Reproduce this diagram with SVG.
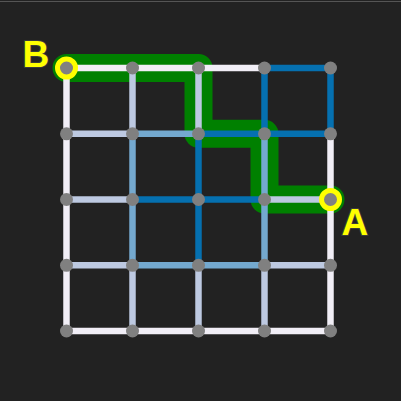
<svg xmlns="http://www.w3.org/2000/svg" width="401" height="401" viewBox="0 0 401 401">
<style>
.bg{fill:#222222}
.path{fill:none;stroke:#008000;stroke-width:28;stroke-linejoin:round;stroke-linecap:round}
.ol line{stroke:#7a7a7a;stroke-width:8.5}
.w{stroke:#f1eef6;stroke-width:6.5}
.l{stroke:#bdc9e1;stroke-width:6.5}
.m{stroke:#74a9cf;stroke-width:6.5}
.d{stroke:#0570b0;stroke-width:6.5}
.n{fill:#808080}
.end{fill:#808080;stroke:#ffff00;stroke-width:5}
.lab{font-family:"Liberation Sans",Arial,sans-serif;font-weight:bold;font-size:37px;fill:#ffff00;stroke:#3a3a3a;stroke-width:2;paint-order:stroke}
</style>
<defs>
<g id="edges">
<line x1="66.5" y1="68" x2="132.5" y2="68"/><line x1="132.5" y1="68" x2="198.5" y2="68"/><line x1="198.5" y1="68" x2="264.5" y2="68"/><line x1="264.5" y1="68" x2="330.5" y2="68"/>
<line x1="66.5" y1="133.8" x2="132.5" y2="133.8"/><line x1="132.5" y1="133.8" x2="198.5" y2="133.8"/><line x1="198.5" y1="133.8" x2="264.5" y2="133.8"/><line x1="264.5" y1="133.8" x2="330.5" y2="133.8"/>
<line x1="66.5" y1="199.5" x2="132.5" y2="199.5"/><line x1="132.5" y1="199.5" x2="198.5" y2="199.5"/><line x1="198.5" y1="199.5" x2="264.5" y2="199.5"/><line x1="264.5" y1="199.5" x2="330.5" y2="199.5"/>
<line x1="66.5" y1="265.3" x2="132.5" y2="265.3"/><line x1="132.5" y1="265.3" x2="198.5" y2="265.3"/><line x1="198.5" y1="265.3" x2="264.5" y2="265.3"/><line x1="264.5" y1="265.3" x2="330.5" y2="265.3"/>
<line x1="66.5" y1="331" x2="132.5" y2="331"/><line x1="132.5" y1="331" x2="198.5" y2="331"/><line x1="198.5" y1="331" x2="264.5" y2="331"/><line x1="264.5" y1="331" x2="330.5" y2="331"/>
<line x1="66.5" y1="68" x2="66.5" y2="331"/><line x1="132.5" y1="68" x2="132.5" y2="331"/><line x1="198.5" y1="68" x2="198.5" y2="331"/><line x1="264.5" y1="68" x2="264.5" y2="331"/><line x1="330.5" y1="68" x2="330.5" y2="331"/>
</g>
</defs>
<rect class="bg" x="0" y="0" width="401" height="401"/>
<line x1="0" y1="1.5" x2="401" y2="1.5" stroke="#555" stroke-width="1"/>
<path id="route" class="path" d="M66.5,68 H198.5 V133.8 H264.5 V199.5 H330.5"/>
<g id="connectors">
<g class="ol"><use href="#edges"/></g>
<g>
<line class="w" x1="66.5" y1="68" x2="132.5" y2="68"/><line class="w" x1="132.5" y1="68" x2="198.5" y2="68"/><line class="w" x1="198.5" y1="68" x2="264.5" y2="68"/><line class="d" x1="264.5" y1="68" x2="330.5" y2="68"/>
<line class="l" x1="66.5" y1="133.8" x2="132.5" y2="133.8"/><line class="m" x1="132.5" y1="133.8" x2="198.5" y2="133.8"/><line class="d" x1="198.5" y1="133.8" x2="264.5" y2="133.8"/><line class="d" x1="264.5" y1="133.8" x2="330.5" y2="133.8"/>
<line class="l" x1="66.5" y1="199.5" x2="132.5" y2="199.5"/><line class="d" x1="132.5" y1="199.5" x2="198.5" y2="199.5"/><line class="d" x1="198.5" y1="199.5" x2="264.5" y2="199.5"/><line class="l" x1="264.5" y1="199.5" x2="330.5" y2="199.5"/>
<line class="l" x1="66.5" y1="265.3" x2="132.5" y2="265.3"/><line class="m" x1="132.5" y1="265.3" x2="198.5" y2="265.3"/><line class="m" x1="198.5" y1="265.3" x2="264.5" y2="265.3"/><line class="l" x1="264.5" y1="265.3" x2="330.5" y2="265.3"/>
<line class="w" x1="66.5" y1="331" x2="132.5" y2="331"/><line class="w" x1="132.5" y1="331" x2="198.5" y2="331"/><line class="w" x1="198.5" y1="331" x2="264.5" y2="331"/><line class="w" x1="264.5" y1="331" x2="330.5" y2="331"/>
<line class="w" x1="66.5" y1="68" x2="66.5" y2="331"/>
<line class="l" x1="132.5" y1="68" x2="132.5" y2="133.8"/><line class="m" x1="132.5" y1="133.8" x2="132.5" y2="265.3"/><line class="l" x1="132.5" y1="265.3" x2="132.5" y2="331"/>
<line class="l" x1="198.5" y1="68" x2="198.5" y2="133.8"/><line class="d" x1="198.5" y1="133.8" x2="198.5" y2="265.3"/><line class="l" x1="198.5" y1="265.3" x2="198.5" y2="331"/>
<line class="d" x1="264.5" y1="68" x2="264.5" y2="133.8"/><line class="m" x1="264.5" y1="133.8" x2="264.5" y2="265.3"/><line class="l" x1="264.5" y1="265.3" x2="264.5" y2="331"/>
<line class="d" x1="330.5" y1="68" x2="330.5" y2="133.8"/><line class="w" x1="330.5" y1="133.8" x2="330.5" y2="331"/>
</g>
</g>
<g id="nodes">
<circle class="n" cx="132.5" cy="68" r="6.5"/><circle class="n" cx="198.5" cy="68" r="6.5"/><circle class="n" cx="264.5" cy="68" r="6.5"/><circle class="n" cx="330.5" cy="68" r="6.5"/>
<circle class="n" cx="66.5" cy="133.8" r="6.5"/><circle class="n" cx="132.5" cy="133.8" r="6.5"/><circle class="n" cx="198.5" cy="133.8" r="6.5"/><circle class="n" cx="264.5" cy="133.8" r="6.5"/><circle class="n" cx="330.5" cy="133.8" r="6.5"/>
<circle class="n" cx="66.5" cy="199.5" r="6.5"/><circle class="n" cx="132.5" cy="199.5" r="6.5"/><circle class="n" cx="198.5" cy="199.5" r="6.5"/><circle class="n" cx="264.5" cy="199.5" r="6.5"/>
<circle class="n" cx="66.5" cy="265.3" r="6.5"/><circle class="n" cx="132.5" cy="265.3" r="6.5"/><circle class="n" cx="198.5" cy="265.3" r="6.5"/><circle class="n" cx="264.5" cy="265.3" r="6.5"/><circle class="n" cx="330.5" cy="265.3" r="6.5"/>
<circle class="n" cx="66.5" cy="331" r="6.5"/><circle class="n" cx="132.5" cy="331" r="6.5"/><circle class="n" cx="198.5" cy="331" r="6.5"/><circle class="n" cx="264.5" cy="331" r="6.5"/><circle class="n" cx="330.5" cy="331" r="6.5"/>
</g>
<g id="nodeB"><circle class="end" cx="66.5" cy="68" r="9"/><text class="lab" x="22.5" y="67">B</text></g>
<g id="nodeA"><circle class="end" cx="330.5" cy="199.5" r="9"/><text class="lab" x="341.5" y="235">A</text></g>
</svg>
